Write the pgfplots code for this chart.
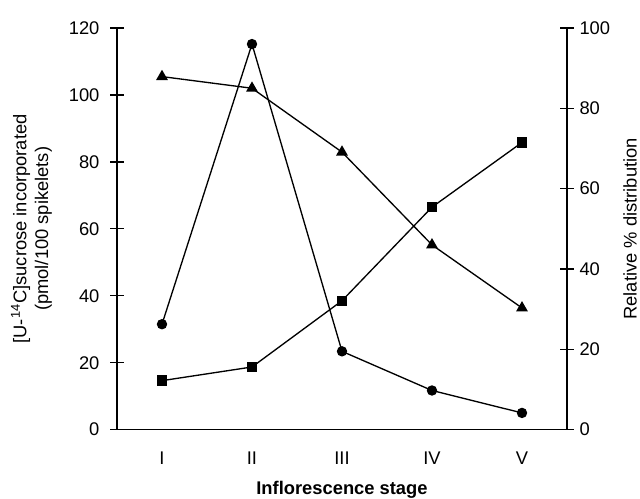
\documentclass[border=0pt]{standalone}
\usepackage{fontspec}
\setmainfont{Liberation Sans}
\usepackage{pgfplots}
\pgfplotsset{compat=1.18}
\begin{document}
\begin{tikzpicture}[font=\fontsize{11}{13}\selectfont]
\useasboundingbox (-70.2pt,-41.4pt) rectangle (313.8pt,257.8pt);
\pgfplotsset{
  common/.style={
    width=270pt, height=241pt, scale only axis,
    xmin=-0.5, xmax=4.5,
    axis line style={line width=0.9pt,-},
    tick align=center, major tick length=8pt,
    tick style={line width=0.8pt, black},
    /pgf/number format/assume math mode=true,
    clip=false,
  }
}
\begin{axis}[common,
  ymin=0, ymax=120, ytick={0,20,...,120},
  axis y line*=left, axis x line*=bottom,
  xtick={0,1,2,3,4}, xticklabels={I,II,III,IV,V},
  xtick style={draw=none},
  xticklabel style={yshift=-6pt},
  yticklabel style={xshift=-3pt},
  ylabel={[U-\textsuperscript{14}C]sucrose incorporated\\(pmol/100 spikelets)},
  ylabel style={at={(axis description cs:-0.19,0.5)}, anchor=center, align=center},
  xlabel={\bfseries Inflorescence stage},
  xlabel style={at={(axis description cs:0.5,0)}, yshift=-36pt, anchor=center},
]
\addplot[black, line width=0.8pt, mark=*, mark size=2.7pt] coordinates {
 (0,31.5) (1,115.2) (2,23.4) (3,11.7) (4,5.0)};
\end{axis}
\begin{axis}[common,
  ymin=0, ymax=100, ytick={0,20,...,100},
  axis y line*=right, axis x line=none,
  xtick=\empty,
  yticklabel style={xshift=0pt},
  ylabel={Relative \% distribution},
  ylabel style={at={(axis description cs:1.140,0.5)}, anchor=center},
]
\addplot[black, line width=0.8pt, mark=triangle*, mark size=3.3pt] coordinates {
 (0,87.9) (1,85.0) (2,69.1) (3,46.0) (4,30.3)};
\addplot[black, line width=0.8pt, mark=square*, mark size=2.7pt] coordinates {
 (0,12.2) (1,15.6) (2,32.1) (3,55.4) (4,71.5)};
\end{axis}
\end{tikzpicture}
\end{document}
